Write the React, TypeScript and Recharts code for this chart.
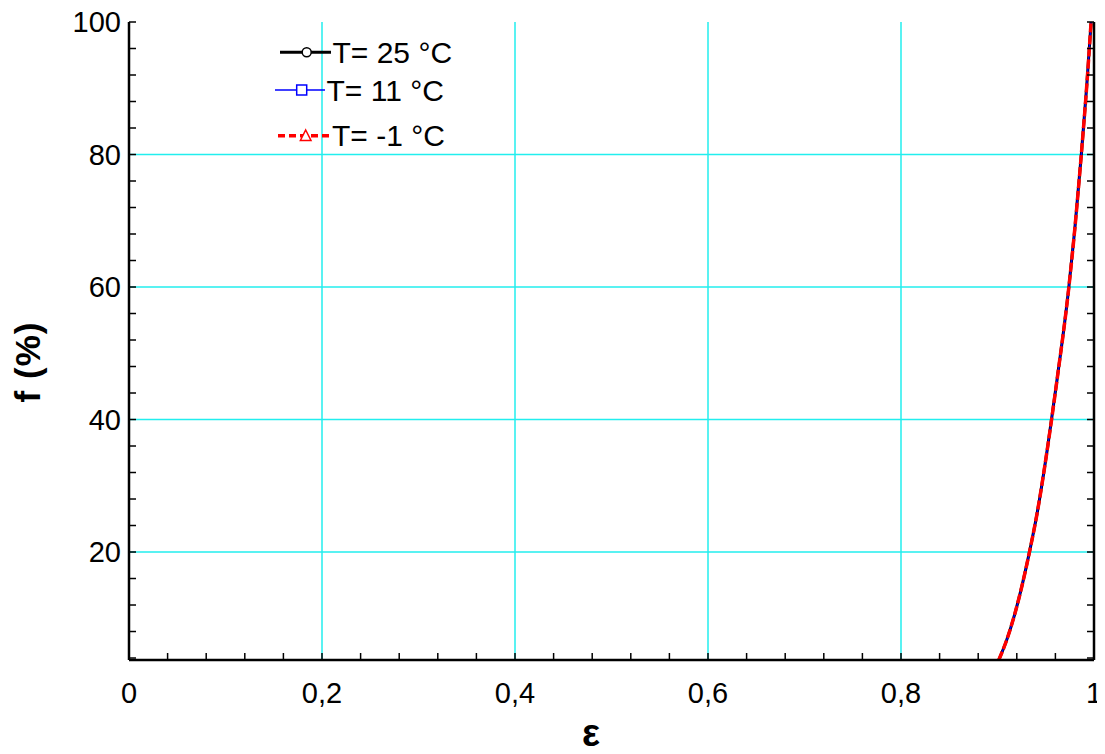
import React from "react";
import { LineChart, Line, XAxis, YAxis, ReferenceLine } from "recharts";

// ---- data ----
const epsilon = [0.9013, 0.9095, 0.9181, 0.933, 0.941, 0.952, 0.9617, 0.9738, 0.98, 0.9868, 0.9924, 0.997];
const fT25 = [3.7, 6.7, 10.75, 19.9, 25.8, 35.9, 46.0, 59.8, 68.6, 79.9, 90.2, 100];
const fT11 = [3.7, 6.7, 10.75, 19.9, 25.8, 35.9, 46.0, 59.8, 68.6, 79.9, 90.2, 100];
const fTm1 = [3.7, 6.7, 10.75, 19.9, 25.8, 35.9, 46.0, 59.8, 68.6, 79.9, 90.2, 100];

const xMajorTicks = [0, 0.2, 0.4, 0.6, 0.8, 1];
const yMajorTicks = [20, 40, 60, 80, 100];
const xGrid = [0.2, 0.4, 0.6, 0.8];
const yGrid = [20, 40, 60, 80];
const seriesLabels = ["T= 25 °C", "T= 11 °C", "T= -1 °C"];

const xMinorTicks: number[] = [];
for (let i = 0; i <= 25; i++) xMinorTicks.push(Math.round(i * 4) / 100);
const yMinorTicks: number[] = [];
for (let i = 1; i <= 25; i++) yMinorTicks.push(i * 4);

const data = epsilon.map((e, i) => ({ eps: e, t25: fT25[i], t11: fT11[i], tm1: fTm1[i] }));

const FONT = "'Liberation Sans', Arial, Helvetica, sans-serif";
const W = 1089;
const H = 738;
const GRID = "#22EEEE";
const TICK_FS = 29;

const isMajor = (v: number, majors: number[]) => majors.some((m) => Math.abs(m - v) < 1e-6);
const fmt = (v: number) => String(v).replace(".", ",");

const BottomTick = (props: any) => {
  const { x, y, payload } = props;
  const v = payload.value;
  return (
    <g>
      <line x1={x} x2={x} y1={y} y2={y - 7} stroke="#000" strokeWidth={1.5} />
      {isMajor(v, xMajorTicks) && (
        <text x={x} y={y + 43} textAnchor="middle" fontSize={TICK_FS} fontFamily={FONT} fill="#000">
          {fmt(v)}
        </text>
      )}
    </g>
  );
};

const TopTick = (props: any) => {
  const { x, y } = props;
  return <line x1={x} x2={x} y1={y} y2={y + 7} stroke="#000" strokeWidth={1.5} />;
};

const LeftTick = (props: any) => {
  const { x, y, payload } = props;
  const v = payload.value;
  return (
    <g>
      <line x1={x} x2={x + 7} y1={y} y2={y} stroke="#000" strokeWidth={1.5} />
      {isMajor(v, yMajorTicks) && (
        <text x={x - 8} y={y + 10} textAnchor="end" fontSize={TICK_FS} fontFamily={FONT} fill="#000">
          {v}
        </text>
      )}
    </g>
  );
};

const RightTick = (props: any) => {
  const { x, y } = props;
  return <line x1={x} x2={x - 7} y1={y} y2={y} stroke="#000" strokeWidth={1.5} />;
};

export default function App() {
  return (
    <div style={{ position: "relative", width: W, height: H, background: "#fff" }}>
      <style>{"body{overflow:hidden} .recharts-surface{overflow:visible}"}</style>
      <LineChart width={W} height={H} data={data} margin={{ top: 14, right: 2, bottom: 0, left: 0 }}>
        <XAxis
          xAxisId={0}
          dataKey="eps"
          type="number"
          domain={[0, 1]}
          ticks={xMinorTicks}
          interval={0}
          height={86}
          tickSize={0}
          tickMargin={0}
          tickLine={false}
          axisLine={{ stroke: "#000", strokeWidth: 2.5 }}
          tick={BottomTick}
          allowDataOverflow
        />
        <XAxis
          xAxisId="top"
          orientation="top"
          dataKey="eps"
          type="number"
          domain={[0, 1]}
          ticks={xMinorTicks}
          interval={0}
          height={0}
          tickSize={0}
          tickMargin={0}
          tickLine={false}
          axisLine={{ stroke: "#000", strokeWidth: 2.5 }}
          tick={TopTick}
          allowDataOverflow
        />
        <YAxis
          yAxisId={0}
          type="number"
          domain={[3.7, 100]}
          ticks={yMinorTicks}
          interval={0}
          width={121}
          tickSize={0}
          tickMargin={0}
          tickLine={false}
          axisLine={{ stroke: "#000", strokeWidth: 2.5 }}
          tick={LeftTick}
          allowDataOverflow
        />
        <YAxis
          yAxisId="right"
          orientation="right"
          type="number"
          domain={[3.7, 100]}
          ticks={yMinorTicks}
          interval={0}
          width={1}
          tickSize={0}
          tickMargin={0}
          tickLine={false}
          axisLine={{ stroke: "#000", strokeWidth: 2.5 }}
          tick={RightTick}
          allowDataOverflow
        />
        {xGrid.map((v) => (
          <ReferenceLine key={"x" + v} x={v} stroke={GRID} strokeWidth={1.5} />
        ))}
        {yGrid.map((v) => (
          <ReferenceLine key={"y" + v} y={v} stroke={GRID} strokeWidth={1.5} />
        ))}
        <Line type="monotone" dataKey="t25" stroke="#000" strokeWidth={3} dot={false} isAnimationActive={false} />
        <Line type="monotone" dataKey="t11" stroke="#0000ff" strokeWidth={1.5} dot={false} isAnimationActive={false} />
        <Line
          type="monotone"
          dataKey="tm1"
          stroke="#ff0000"
          strokeWidth={3.5}
          strokeDasharray="9 3"
          dot={false}
          isAnimationActive={false}
        />
      </LineChart>
      <svg
        width={W}
        height={H}
        style={{ position: "absolute", left: 0, top: 0, pointerEvents: "none", overflow: "visible" }}
      >
        {/* legend */}
        <g fontFamily={FONT} fontSize={30} fill="#000">
          <line x1={272} x2={323} y1={44.3} y2={44.3} stroke="#000" strokeWidth={3} />
          <circle cx={298.7} cy={44.3} r={4.5} fill="#fff" stroke="#000" strokeWidth={1.5} />
          <text x={324.5} y={55.3}>{seriesLabels[0]}</text>

          <line x1={267} x2={317} y1={82} y2={82} stroke="#0000ff" strokeWidth={1.5} />
          <rect x={288.7} y={77} width={10} height={10} fill="#fff" stroke="#0000ff" strokeWidth={1.5} />
          <text x={318.5} y={93}>{seriesLabels[1]}</text>

          <line x1={270} x2={321} y1={127.7} y2={127.7} stroke="#ff0000" strokeWidth={3.5} strokeDasharray="7 4" />
          <polygon points="297.7,122 303,132.5 292.4,132.5" fill="#fff" stroke="#ff0000" strokeWidth={1.5} />
          <text x={324} y={138}>{seriesLabels[2]}</text>
        </g>
        {/* axis titles */}
        <text
          x={19}
          y={354}
          transform="rotate(-90 19 354)"
          textAnchor="middle"
          dominantBaseline="central"
          fontFamily={FONT}
          fontWeight="bold"
          fontSize={35}
          letterSpacing={1}
          fill="#000"
        >
          f (%)
        </text>
        <text
          x={583}
          y={738}
          textAnchor="middle"
          fontFamily={FONT}
          fontWeight="bold"
          fontSize={38}
          fill="#000"
        >
          ε
        </text>
      </svg>
    </div>
  );
}
